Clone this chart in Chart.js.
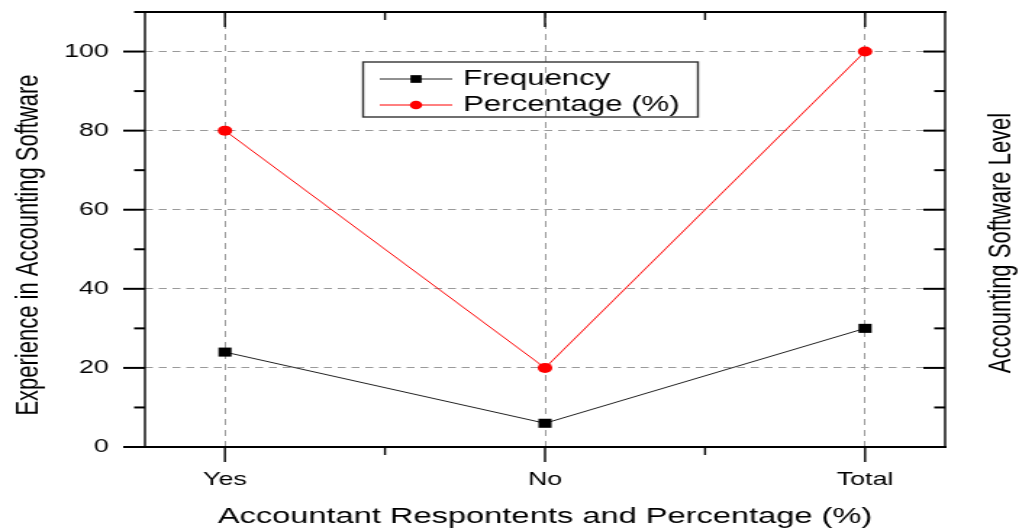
<!DOCTYPE html>
<html>
<head>
<meta charset="utf-8">
<script src="https://cdn.jsdelivr.net/npm/chart.js@4.4.1/dist/chart.umd.min.js"></script>
<style>
  html, body { margin: 0; padding: 0; background: #fff; overflow: hidden; }
  /* the original figure is stretched sideways, so draw narrow and scale up */
  #wrap { width: 703px; height: 531px; transform: scaleX(1.4495); transform-origin: 0 0; }
</style>
</head>
<body>
<div id="wrap"><canvas id="chart"></canvas></div>
<script>
// data
const categories = ["Yes", "No", "Total"];
const frequency = [24, 6, 30];
const percentage = [80, 20, 100];
const yTicks = [0, 20, 40, 60, 80, 100];
const xTitle = "Accountant Respontents and Percentage (%)";
const yTitle = "Experience in Accounting Software";
const y2Title = "Accounting Software Level";

const FONT = "'Liberation Sans', Arial, sans-serif";
const GRID = "#9a9a9a";

// frame, ticks, titles and legend
const framePlugin = {
  id: "frame",
  afterDraw(chart) {
    const { ctx, chartArea: a, scales: { x, y } } = chart;
    const line = (x1, y1, x2, y2) => {
      ctx.beginPath(); ctx.moveTo(x1, y1); ctx.lineTo(x2, y2); ctx.stroke();
    };
    ctx.save();
    ctx.strokeStyle = "#000";

    // y ticks, left outward / right inward
    ctx.lineWidth = 2;
    for (let v = 0; v <= y.max; v += 10) {
      const py = y.getPixelForValue(v);
      const len = v % 20 === 0 ? 15 : 7.5;
      line(a.left - len, py, a.left, py);
      line(a.right - len, py, a.right, py);
    }
    // x ticks, bottom outward / top inward
    ctx.lineWidth = 1.4;
    for (let v = 0; v <= categories.length - 1; v += 0.5) {
      const px = x.getPixelForValue(v);
      const len = Number.isInteger(v) ? 15 : 8;
      line(px, a.bottom, px, a.bottom + len);
      line(px, a.top, px, a.top + len);
    }

    // box
    ctx.lineWidth = 2;
    line(a.left - 1, a.top, a.right + 1, a.top);
    line(a.left - 1, a.bottom, a.right + 1, a.bottom);
    ctx.lineWidth = 1.4;
    line(a.left, a.top, a.left, a.bottom);
    line(a.right, a.top, a.right, a.bottom);

    // axis titles
    ctx.fillStyle = "#000";
    ctx.font = "22.5px " + FONT;
    ctx.textAlign = "center";
    ctx.textBaseline = "middle";
    ctx.fillText(xTitle, (a.left + a.right) / 2, 517);
    ctx.font = "22px " + FONT;
    ctx.save();
    ctx.translate(19.5, 245);
    ctx.rotate(-Math.PI / 2);
    ctx.fillText(yTitle, 0, 0);
    ctx.restore();
    ctx.save();
    ctx.translate(691, 243);
    ctx.rotate(-Math.PI / 2);
    ctx.fillText(y2Title, 0, 0);
    ctx.restore();

    // legend box
    ctx.lineWidth = 1.4;
    ctx.strokeStyle = "#333";
    ctx.strokeRect(250.5, 62, 231, 55);
    ctx.font = "21.5px " + FONT;
    ctx.textAlign = "left";
    chart.data.datasets.forEach((ds, i) => {
      const ly = 79 + i * 26;
      ctx.strokeStyle = ds.borderColor;
      ctx.lineWidth = 1;
      line(262, ly, 312, ly);
      ctx.fillStyle = ds.backgroundColor;
      Chart.helpers.drawPoint(ctx, { pointStyle: ds.pointStyle, radius: ds.pointRadius * 0.85, rotation: 0, borderWidth: 0 }, 287, ly);
      ctx.fillStyle = "#000";
      ctx.fillText(ds.label, 319.5, ly);
    });
    ctx.restore();
  }
};

const toPoints = vals => vals.map((v, i) => ({ x: i, y: v }));

new Chart(document.getElementById("chart"), {
  type: "line",
  data: {
    datasets: [
      {
        label: "Frequency",
        data: toPoints(frequency),
        borderColor: "#222",
        backgroundColor: "#000",
        borderWidth: 1,
        pointStyle: "rect",
        pointRadius: 6.4,
        pointBorderWidth: 0
      },
      {
        label: "Percentage (%)",
        data: toPoints(percentage),
        borderColor: "#ff0000",
        backgroundColor: "#ff0000",
        borderWidth: 1,
        pointStyle: "circle",
        pointRadius: 5,
        pointBorderWidth: 0
      }
    ]
  },
  options: {
    responsive: true,
    maintainAspectRatio: false,
    animation: false,
    events: [],
    layout: { padding: { top: 12, right: 51, left: 0, bottom: 0 }, autoPadding: false },
    plugins: { legend: { display: false }, tooltip: { enabled: false } },
    scales: {
      x: {
        type: "linear",
        min: -0.25,
        max: 2.25,
        afterFit: s => { s.height = 84; s.paddingLeft = 0; s.paddingRight = 0; },
        afterBuildTicks: s => { s.ticks = categories.map((c, i) => ({ value: i })); },
        ticks: {
          callback: v => categories[v] ?? "",
          color: "#000",
          font: { size: 18.5, family: FONT },
          padding: 22,
          autoSkip: false,
          maxRotation: 0
        },
        grid: { color: GRID, lineWidth: 1, drawTicks: false },
        border: { display: false, dash: [6, 5] }
      },
      y: {
        min: 0,
        max: 110,
        afterFit: s => { s.width = 100; s.paddingTop = 0; s.paddingBottom = 0; },
        afterBuildTicks: s => { s.ticks = yTicks.map(v => ({ value: v })); },
        ticks: {
          color: "#000",
          font: { size: 18.5, family: FONT },
          padding: 25
        },
        grid: {
          color: c => (c.tick && c.tick.value === 0 ? "rgba(0,0,0,0)" : GRID),
          lineWidth: 1,
          drawTicks: false
        },
        border: { display: false, dash: [5.5, 4] }
      }
    }
  },
  plugins: [framePlugin]
});
</script>
</body>
</html>
